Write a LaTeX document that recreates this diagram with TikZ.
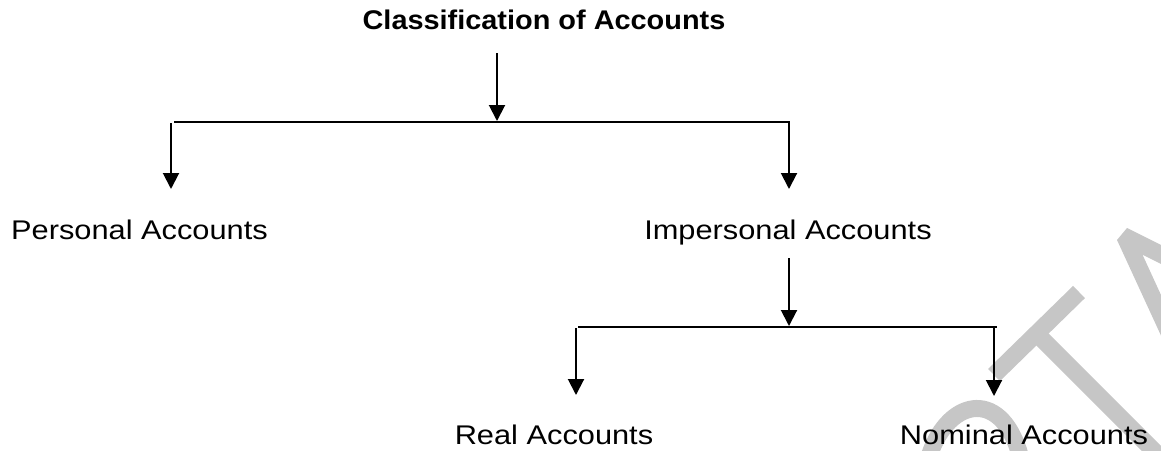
\documentclass[tikz,border=0pt]{standalone}
\usepackage{fontspec}
\setmainfont{Liberation Sans}
% wide sans faces for the labels and the heading
\newfontfamily\lblfont[FakeStretch=1.14]{Liberation Sans}
\newfontfamily\ttlfont[FakeStretch=1.07]{Liberation Sans}
\usetikzlibrary{arrows.meta}
\definecolor{markgray}{HTML}{C6C6C6}

\begin{document}
\begin{tikzpicture}[x=1pt,y=-1pt,
  acct/.style={anchor=base, inner sep=0pt, font=\lblfont\fontsize{27}{32}\selectfont},
  heading/.style={anchor=base, inner sep=0pt, font=\ttlfont\bfseries\fontsize{27}{32}\selectfont},
  branch/.style={line width=2pt},
  down/.style={line width=2pt, -{Triangle[length=16pt,width=16pt]}},
  wstroke/.style={draw=markgray, line width=17pt},
  wfill/.style={fill=markgray, draw=none}]
\useasboundingbox (0,0) rectangle (1161,450);

% grey background lettering in the lower right corner
\begin{scope}
  \clip (0,0) rectangle (1161,450);
  \draw[wstroke] (994,375) -- (1079,292);
  \draw[wstroke] (1036,333) -- (1180,477);
  \fill[wfill] (1161,245) -- (1127,228) -- (1117,240) -- (1161,335.6)
               -- (1161,295) -- (1142.5,254.7) -- (1161,264) -- cycle;
  \draw[wstroke] (928,460) .. controls (945,400) and (1000,385) .. (1020,455);
\end{scope}

% labels
\node[heading] (title) at (544,29) {Classification of Accounts};
\node[acct] (personal) at (139.5,239) {Personal Accounts};
\node[acct] (impersonal) at (788,239) {Impersonal Accounts};
\node[acct] (real) at (554,444) {Real Accounts};
\node[acct] (nominal) at (1024,444) {Nominal Accounts};

% first level
\coordinate (t0) at (497,53);
\coordinate (t1) at (497,121);
\coordinate (b1l) at (174,122);
\coordinate (b1r) at (790,122);
\coordinate (p0) at (171,123);
\coordinate (p1) at (171,189);
\coordinate (i0) at (789,123);
\coordinate (i1) at (789,189);
\draw[down] (t0) -- (t1);
\draw[branch] (b1l) -- (b1r);
\draw[down] (p0) -- (p1);
\draw[down] (i0) -- (i1);

% second level
\coordinate (s0) at (789,258);
\coordinate (s1) at (789,326);
\coordinate (b2l) at (578,327);
\coordinate (b2r) at (997,327);
\coordinate (r0) at (576,328);
\coordinate (r1) at (576,395);
\coordinate (n0) at (994,328);
\coordinate (n1) at (994,396);
\draw[down] (s0) -- (s1);
\draw[branch] (b2l) -- (b2r);
\draw[down] (r0) -- (r1);
\draw[down] (n0) -- (n1);
\end{tikzpicture}
\end{document}
